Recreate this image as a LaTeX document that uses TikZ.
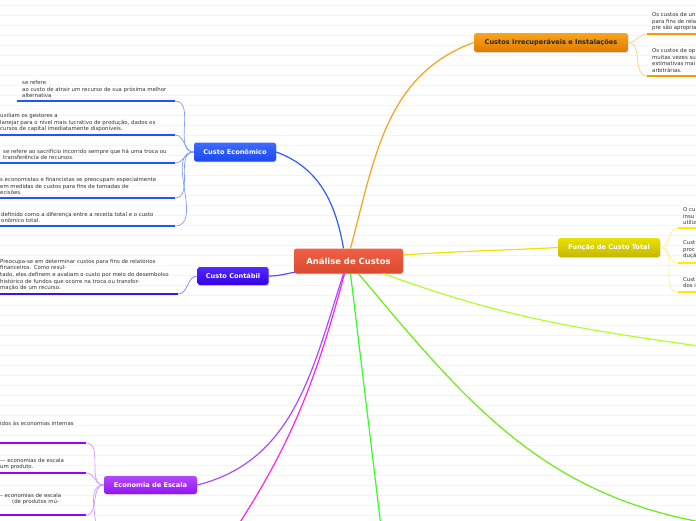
\documentclass[tikz,border=0pt]{standalone}
\usepackage{fontspec}
\setmainfont{DejaVu Sans}
\usetikzlibrary{positioning, shadows}

\definecolor{ruleColour}{HTML}{F3F3F3}
\definecolor{leafText}{HTML}{333333}
\definecolor{rootTop}{HTML}{EF6045}
\definecolor{rootBot}{HTML}{DB4A2E}
\definecolor{econTop}{HTML}{3C6CFF}
\definecolor{econBot}{HTML}{1C47EE}
\definecolor{contabTop}{HTML}{5229FF}
\definecolor{contabBot}{HTML}{3500E4}
\definecolor{irrecTop}{HTML}{F8A51E}
\definecolor{irrecBot}{HTML}{DF7A00}
\definecolor{funcTop}{HTML}{EAE200}
\definecolor{funcBot}{HTML}{C5B600}
\definecolor{escalaTop}{HTML}{B449FF}
\definecolor{escalaBot}{HTML}{9215EF}
\definecolor{econLine}{HTML}{2B5CFF}
\definecolor{econTwig}{HTML}{809CFF}
\definecolor{econBar}{HTML}{1F55FF}
\definecolor{contabLine}{HTML}{5E4CFF}
\definecolor{contabTwig}{HTML}{8C7DFF}
\definecolor{contabBar}{HTML}{3D10F5}
\definecolor{irrecLine}{HTML}{F7A21B}
\definecolor{irrecTwig}{HTML}{FFCB80}
\definecolor{irrecBar}{HTML}{F59A00}
\definecolor{funcLine}{HTML}{ECE300}
\definecolor{funcTwig}{HTML}{FFF27A}
\definecolor{funcBar}{HTML}{FFEA00}
\definecolor{escalaLine}{HTML}{A64DFF}
\definecolor{escalaTwig}{HTML}{CC99FF}
\definecolor{escalaBar}{HTML}{9A00F5}
\definecolor{magentaLine}{HTML}{FF22EE}
\definecolor{greenLine}{HTML}{33FF22}
\definecolor{limeLine}{HTML}{66EE11}
\definecolor{ygLine}{HTML}{B0FF2A}

\begin{document}
\begin{tikzpicture}[x=1pt, y=1pt,
    topic/.style={rounded corners=2.5pt, inner sep=0pt, text=white,
        font=\fontsize{6.6}{7}\selectfont\bfseries,
        drop shadow={opacity=0.25, shadow xshift=0.6pt, shadow yshift=-0.8pt}},
    leaf/.style={anchor=south west, align=left, inner sep=0pt, text=leafText,
        font=\fontsize{5.4}{6.6}\selectfont},
    bar/.style={line width=2.4pt},
    twig/.style={line width=0.7pt},
    branch/.style={line width=1.2pt}]

    % Canvas and ruled background
    \clip (0,0) rectangle (696,-520);
    \fill[white] (0,0) rectangle (696,-520);
    \foreach \y in {5,15,...,515}
        \draw[ruleColour, line width=0.5pt] (0,-\y) -- (696,-\y);

    % Central topic
    \node[topic, minimum width=109pt, minimum height=25pt,
        font=\fontsize{8.4}{9}\selectfont\bfseries,
        top color=rootTop, bottom color=rootBot] (root) at (348.5,-261) {Análise de Custos};

    % Main topics
    \node[topic, minimum width=82pt, minimum height=19pt,
        top color=econTop, bottom color=econBot] (econ) at (235,-152) {Custo Econômico};
    \node[topic, minimum width=71pt, minimum height=18pt,
        top color=contabTop, bottom color=contabBot] (contab) at (233,-276) {Custo Contábil};
    \node[topic, minimum width=154pt, minimum height=19pt, text=black!85,
        top color=irrecTop, bottom color=irrecBot] (irrec) at (551,-42.5) {Custos Irrecuperáveis e Instalações};
    \node[topic, minimum width=102pt, minimum height=19pt,
        top color=funcTop, bottom color=funcBot] (funcao) at (609,-247.5) {Função de Custo Total};
    \node[topic, minimum width=93pt, minimum height=18pt,
        top color=escalaTop, bottom color=escalaBot] (escala) at (150.5,-485) {Economia de Escala};

    % Branches leaving the canvas
    \coordinate (magEnd) at (225,-545);
    \coordinate (greenEnd) at (382,-535);
    \coordinate (limeEnd) at (706,-523);
    \coordinate (ygEnd) at (706,-347);

    % Branches from the central topic
    \draw[branch, econLine] ([xshift=-5pt]root.north) to[out=100,in=-20] (econ.east);
    \draw[branch, irrecLine] ([xshift=2pt]root.north) to[out=75,in=200] (irrec.west);
    \draw[branch, contabLine] (contab.east) to[out=0,in=190] ([xshift=1pt,yshift=1.5pt]root.south west);
    \draw[branch, funcLine] ([yshift=6pt]root.east) to[out=4,in=183] (funcao.west);
    \draw[branch, escalaLine] ([xshift=-5pt]root.south) to[out=-108,in=14] (escala.east);
    \draw[branch, magentaLine] ([xshift=-4pt]root.south) to[out=-105,in=56] (magEnd);
    \draw[branch, greenLine] ([xshift=2pt]root.south) -- (greenEnd);
    \draw[branch, limeLine] ([xshift=10pt]root.south) to[out=-50,in=170] (limeEnd);
    \draw[branch, ygLine] ([xshift=35pt]root.south) to[out=-20,in=172] (ygEnd);

    % Custo Economico: leaves
    \coordinate (b1s) at (17,-101);  \coordinate (b1e) at (175,-101);
    \coordinate (b2s) at (-5,-135);  \coordinate (b2e) at (175,-135);
    \coordinate (b3s) at (-5,-163);  \coordinate (b3e) at (175,-163);
    \coordinate (b4s) at (-5,-198);  \coordinate (b4e) at (175,-198);
    \coordinate (b5s) at (-5,-226);  \coordinate (b5e) at (175,-226);
    \node[leaf] (b1) at (22,-98) {se refere\\ao custo de atrair um recurso de sua próxima melhor\\alternativa};
    \node[leaf] (b2) at (0,-132) {uxiliam os gestores a\\lanejar para o nível mais lucrativo de produção, dados os\\cursos de capital imediatamente disponíveis.};
    \node[leaf] (b3) at (3,-160) {se refere ao sacrifício incorrido sempre que há uma troca ou\\transferência de recursos.};
    \node[leaf] (b4) at (0,-195) {s economistas e financistas se preocupam especialmente\\em medidas de custos para fins de tomadas de\\ecisões.};
    \node[leaf] (b5) at (1,-223) {definido como a diferença entre a receita total e o custo\\onômico total.};
    \foreach \n in {1,...,5} {
        \draw[bar, econBar] (b\n s) -- (b\n e);
        \draw[twig, econTwig] (b\n e) to[out=0,in=180] (econ.west);
    }

    % Custo Contabil: leaf
    \coordinate (c1s) at (-5,-294);  \coordinate (c1e) at (178,-294);
    \node[leaf] (c1) at (0,-291) {Preocupa-se em determinar custos para fins de relatórios\\financeiros. Como resul-\\tado, eles definem e avaliam o custo por meio do desembolso\\histórico de fundos que ocorre na troca ou transfor-\\mação de um recurso.};
    \draw[bar, contabBar] (c1s) -- (c1e);
    \draw[twig, contabTwig] (c1e) to[out=0,in=180] (contab.west);

    % Custos Irrecuperaveis: leaves
    \coordinate (o1s) at (647,-34);  \coordinate (o1e) at (705,-34);
    \coordinate (o2s) at (647,-76);  \coordinate (o2e) at (705,-76);
    \node[leaf] (o1) at (652,-31) {Os custos de un\\para fins de rela\\pre são apropria};
    \node[leaf] (o2) at (652,-72.5) {Os custos de op\\muitas vezes su\\estimativas mai\\arbitrárias.};
    \foreach \n in {1,2} {
        \draw[bar, irrecBar] (o\n s) -- (o\n e);
        \draw[twig, irrecTwig] (irrec.east) to[out=0,in=180] (o\n s);
    }

    % Funcao de Custo Total: leaves
    \coordinate (y1s) at (678,-228);  \coordinate (y1e) at (705,-228);
    \coordinate (y2s) at (678,-263);  \coordinate (y2e) at (705,-263);
    \coordinate (y3s) at (678,-292);  \coordinate (y3e) at (705,-292);
    \node[leaf] (y1) at (683,-225) {O cu\\insu\\utiliz};
    \node[leaf] (y2) at (683,-259) {Cust\\proc\\duçã};
    \node[leaf] (y3) at (683,-288) {Cust\\dos i};
    \foreach \n in {1,2,3} {
        \draw[bar, funcBar] (y\n s) -- (y\n e);
        \draw[twig, funcTwig] (funcao.east) to[out=0,in=180] (y\n s);
    }

    % Economia de Escala: leaves
    \coordinate (p1s) at (-5,-443);  \coordinate (p1e) at (86,-443);
    \coordinate (p2s) at (-5,-473);  \coordinate (p2e) at (86,-473);
    \coordinate (p3s) at (-5,-515);  \coordinate (p3e) at (86,-515);
    \coordinate (p4e) at (86,-548);
    \node[leaf] (p1) at (0,-426) {idos às economias internas};
    \node[leaf] (p2) at (0,-470) {— economias de escala\\um produto.};
    \node[leaf] (p3) at (0,-505) {– economias de escala\\\hspace*{12pt}(de produtos mú-};
    \foreach \n in {1,2,3} {
        \draw[bar, escalaBar] (p\n s) -- (p\n e);
        \draw[twig, escalaTwig] (p\n e) to[out=0,in=180] (escala.west);
    }
    \draw[twig, escalaTwig] (p4e) to[out=0,in=180] (escala.west);

\end{tikzpicture}
\end{document}
